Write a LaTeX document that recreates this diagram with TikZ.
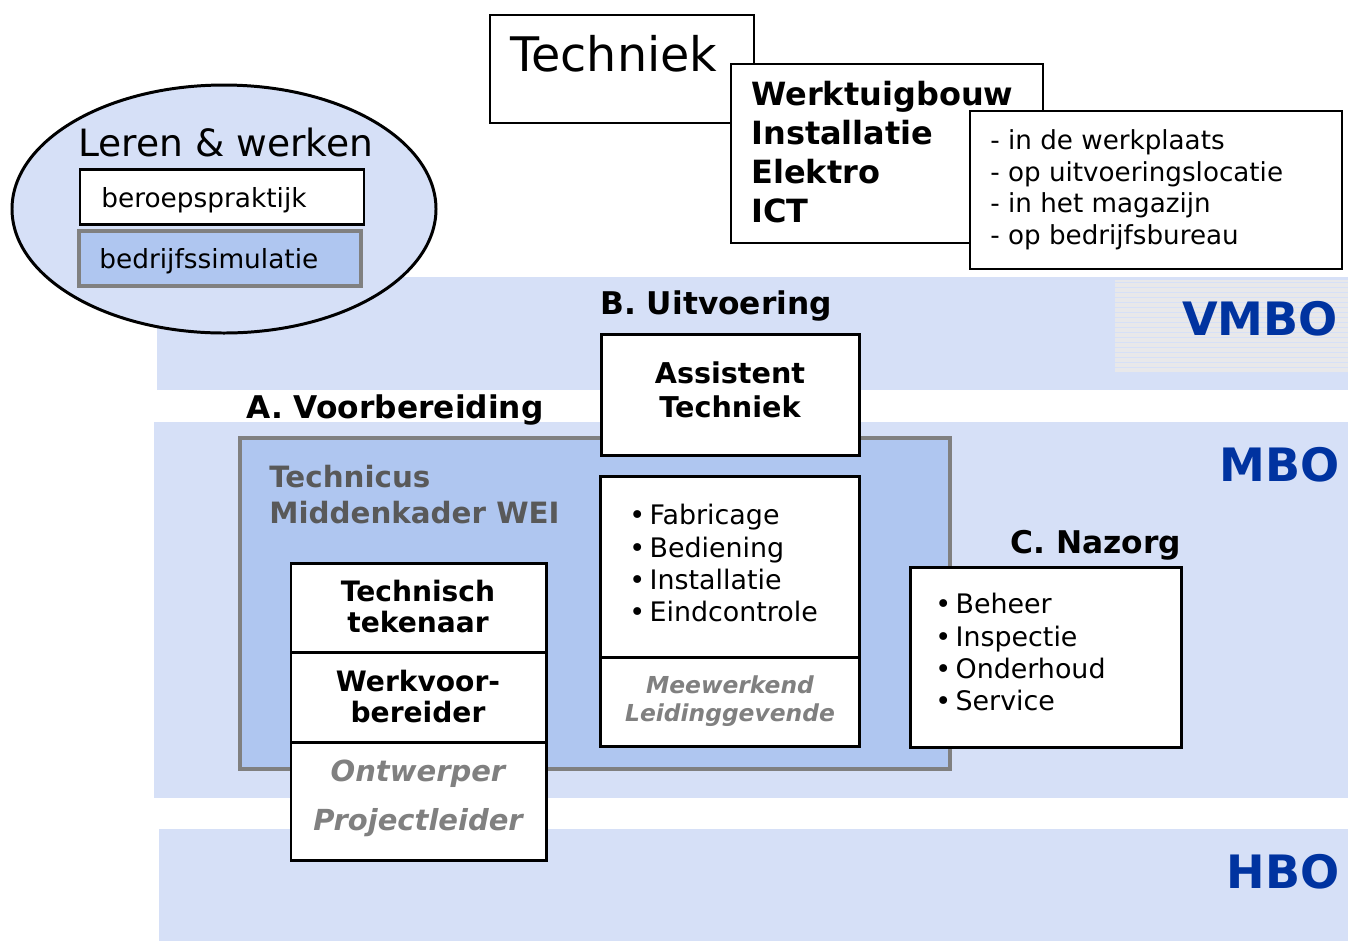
\documentclass[tikz,border=0pt]{standalone}
\usepackage{fontspec}
\setmainfont{DejaVu Sans}
\definecolor{lightblue}{RGB}{214,224,247}
\definecolor{midblue}{RGB}{175,198,240}
\definecolor{levelblue}{RGB}{0,51,160}
\definecolor{boxgray}{RGB}{128,128,128}
\definecolor{textgray}{RGB}{89,89,89}
\definecolor{stripegray}{RGB}{232,232,234}
\newcommand{\fsz}[2]{\fontsize{#1}{#2}\selectfont}
\tikzset{
  band/.style={fill=lightblue,draw=none},
  blackbox/.style={draw=black,line width=1.7pt,fill=white},
  thinbox/.style={draw=black,line width=0.9pt,fill=white},
  greybox/.style={draw=boxgray,line width=1.8pt,fill=midblue},
  lbl/.style={inner sep=0pt,anchor=north west},
  head/.style={lbl,font=\fsz{17.8}{21}\bfseries},
  level/.style={inner sep=0pt,anchor=base east,text=levelblue,font=\fsz{26.2}{30}\bfseries},
  role/.style={inner sep=0pt,anchor=north,align=center,font=\fsz{16}{17.6}\bfseries},
  oldrole/.style={inner sep=0pt,anchor=north,align=center,text=boxgray,font=\bfseries\itshape},
  items/.style={lbl,align=left,font=\fsz{15.3}{18.4}}
}
\newcommand{\bul}{•\hspace{2.5pt}}
\begin{document}
\begin{tikzpicture}[x=0.02cm,y=-0.02cm]
\useasboundingbox (0,0) rectangle (1348,941);
% levels
\fill[band] (157,277) rectangle (1348,390);
\fill[stripegray] (1115,280) rectangle (1348,372);
\foreach \yy in {282,287,...,370}
  \draw[lightblue,line width=0.5pt] (1115,\yy) -- (1348,\yy);
\fill[band] (154,422) rectangle (1348,798);
\fill[band] (159,829) rectangle (1348,941);
\node[level] (vmbo) at (1338,335) {VMBO};
\node[level] (mbo) at (1340,481) {MBO};
\node[level] (hbo) at (1340,888) {HBO};
% leren en werken
\draw[fill=lightblue,line width=1.7pt] (224,209) ellipse [x radius=212,y radius=124];
\node[lbl,font=\fsz{21.4}{25}] (leren) at (78,128) {Leren \& werken};
\draw[blackbox,line width=1.7pt] (80,169) rectangle (364,224);
\node[lbl,font=\fsz{15}{17}] (praktijk) at (101,187) {beroepspraktijk};
\draw[greybox] (79,231) rectangle (361,286);
\node[lbl,font=\fsz{15}{17}] (simulatie) at (99,248) {bedrijfssimulatie};
% techniek
\draw[thinbox] (490,15) rectangle (754,123);
\node[lbl,font=\fsz{27.1}{30}] (techniek) at (510,35) {Techniek};
\draw[thinbox] (731,64) rectangle (1043,243);
\node[lbl,align=left,font=\fsz{18.2}{22.1}\bfseries] (richting) at (751,81)
  {Werktuigbouw\\Installatie\\Elektro\\ICT};
\draw[thinbox,line width=1.1pt] (970,111) rectangle (1342,269);
\node[lbl,align=left,font=\fsz{14.9}{18.1}] (plaats) at (990,129)
  {- in de werkplaats\\- op uitvoeringslocatie\\- in het magazijn\\- op bedrijfsbureau};
% fasen
\node[head] (uitvoering) at (600,290) {B. Uitvoering};
\node[head] (voorbereiding) at (246,394) {A. Voorbereiding};
\node[head] (nazorg) at (1010,530) {C. Nazorg};
% middenkader
\draw[greybox] (240,438) rectangle (950,769);
\node[lbl,align=left,text=textgray,font=\fsz{16.7}{20.4}\bfseries] (wei) at (269,465)
  {Technicus\\Middenkader WEI};
% uitvoering
\draw[blackbox] (601,334) rectangle (859,455);
\node[role,font=\fsz{16.3}{19.8}\bfseries] (assistent) at (730,361) {Assistent\\Techniek};
\draw[blackbox] (600,476) rectangle (859,746);
\draw[line width=1.7pt] (600,657) -- (859,657);
\node[items] (taken) at (629,504) {\bul Fabricage\\\bul Bediening\\\bul Installatie\\\bul Eindcontrole};
\node[oldrole,font=\fsz{13.3}{15.9}\bfseries\itshape] (meewerkend) at (730,675) {Meewerkend\\Leidinggevende};
% voorbereiding
\draw[blackbox] (291,563) rectangle (546,860);
\draw[line width=1.7pt] (291,652) -- (546,652);
\draw[line width=1.7pt] (291,742) -- (546,742);
\node[role] (tekenaar) at (418,580) {Technisch\\tekenaar};
\node[role] (werkvoor) at (418,670) {Werkvoor-\\bereider};
\node[oldrole,font=\fsz{16.5}{27.8}\bfseries\itshape] (ontwerper) at (418,760) {Ontwerper\\Projectleider};
% nazorg
\draw[blackbox] (910,567) rectangle (1181,747);
\node[items] (beheer) at (935,593) {\bul Beheer\\\bul Inspectie\\\bul Onderhoud\\\bul Service};
\end{tikzpicture}
\end{document}
